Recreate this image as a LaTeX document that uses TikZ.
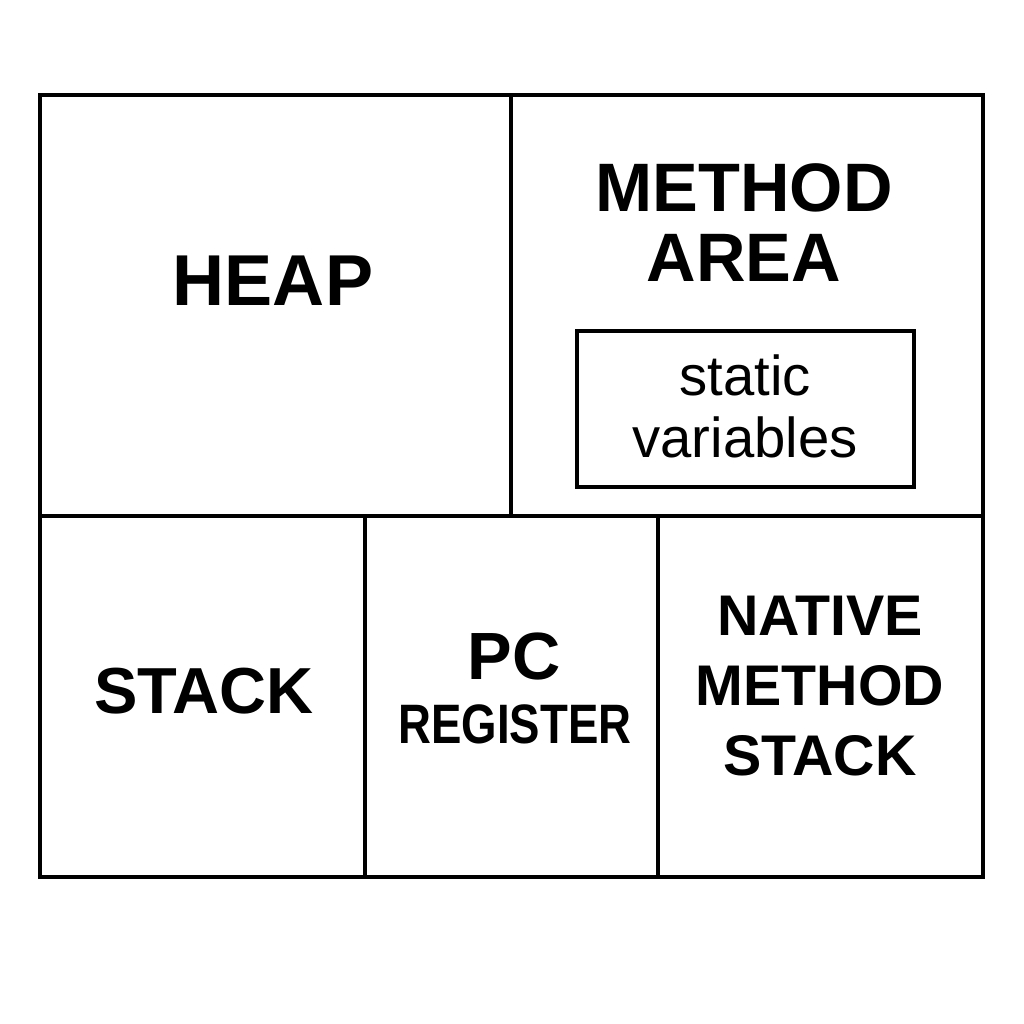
\documentclass[tikz,border=0pt]{standalone}
\usepackage{fontspec}
\setmainfont{Liberation Sans}
\begin{document}
\begin{tikzpicture}[x=0.01cm,y=-0.01cm,line width=0.9pt,
    region/.style={inner sep=0pt,align=center}]
    \useasboundingbox (0,0) rectangle (1024,1024);

    % Outer frame and dividers
    \draw (40,95) rectangle (983,877);
    \draw (40,516) -- (983,516);
    \draw (511,95) -- (511,516);
    \draw (365,516) -- (365,877);
    \draw (658,516) -- (658,877);

    % Heap
    \node [region,font=\fontsize{20.5}{24}\selectfont\bfseries] (heap) at (273,280.5) {HEAP};

    % Method area with static variables
    \node [region,font=\fontsize{19.5}{19.8}\selectfont\bfseries] (method) at (744,222.5) {METHOD\\AREA};
    \draw (577,331) rectangle (914,487);
    \node [region,font=\fontsize{16}{17.6}\selectfont] (static) at (745,406) {static\\variables};

    % Stack
    \node [region,font=\fontsize{18.5}{22}\selectfont\bfseries] (stack) at (204,691) {STACK};

    % PC register
    \node [region,font=\fontsize{19}{22}\selectfont\bfseries] (pc) at (514,656.5) {PC};
    \node [region,font=\fontsize{15.8}{19}\selectfont\bfseries,xscale=0.82] (pcreg) at (515,724) {REGISTER};

    % Native method stack
    \node [region,font=\fontsize{16.3}{19.9}\selectfont\bfseries] (native) at (820,686) {NATIVE\\METHOD\\STACK};
\end{tikzpicture}
\end{document}
